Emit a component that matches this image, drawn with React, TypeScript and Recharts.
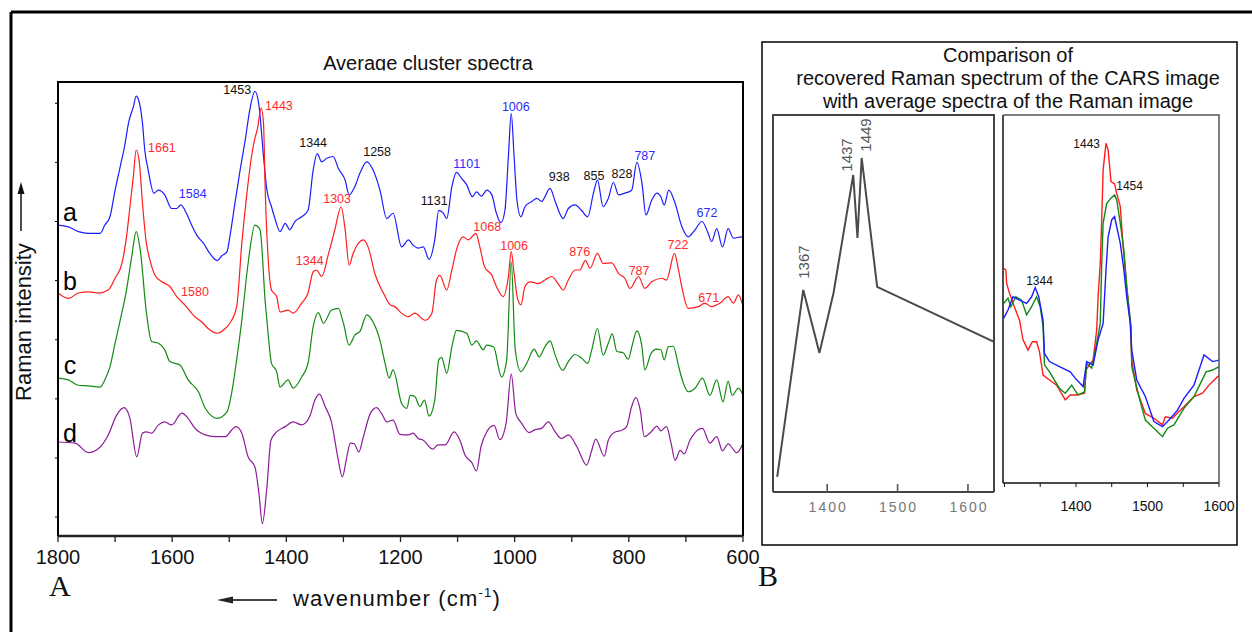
import React from 'react';
import { LineChart, Line, XAxis, YAxis, ReferenceDot } from 'recharts';

const SANS = '"Liberation Sans", Arial, Helvetica, sans-serif';
const SERIF = '"Liberation Serif", "Times New Roman", serif';

// ---------- Panel A : average cluster spectra (offset-stacked, arbitrary units) ----------
const aWn = [1800,1782,1764,1747,1726,1718,1709,1700,1691,1683,1676,1668,1663,1658,1652,1648,1642,1632,1624,1613,1601,1592,1585,1575,1566,1557,1545,1534,1521,1513,1504,1499,1490,1481,1472,1464,1455,1448,1440,1434,1426,1420,1411,1402,1394,1385,1373,1362,1353,1346,1338,1329,1318,1309,1297,1290,1280,1271,1259,1248,1236,1224,1213,1198,1186,1178,1169,1160,1150,1140,1133,1125,1119,1110,1102,1093,1084,1074,1067,1058,1049,1040,1032,1024,1017,1011,1006,1001,996,989,982,970,961,953,938,929,915,906,894,883,872,862,855,845,836,827,818,807,795,786,777,770,760,751,744,738,730,719,707,696,684,672,661,655,646,636,626,617,602,600];
const aVal = [4.94,4.91,4.83,4.80,4.80,4.94,5.08,5.53,5.93,6.29,6.69,6.94,7.12,7.03,6.66,6.21,5.87,5.48,5.53,5.45,5.22,5.22,5.28,5.14,4.94,4.77,4.63,4.46,4.34,4.42,4.49,4.74,5.31,5.87,6.38,6.89,7.20,6.97,6.10,5.53,5.25,5.05,4.83,4.97,4.86,5.00,5.08,5.19,5.87,6.15,6.01,6.07,6.10,5.90,5.70,5.45,5.59,5.82,6.01,5.87,5.53,5.05,5.14,4.57,4.69,4.60,4.55,4.57,4.36,4.69,5.19,5.14,5.05,5.59,5.83,5.73,5.62,5.42,5.50,5.43,5.53,5.45,5.14,4.98,5.19,6.10,6.83,6.10,5.36,5.08,5.25,5.34,5.39,5.34,5.56,5.34,5.05,5.22,5.28,5.19,5.08,5.48,5.70,5.25,5.39,5.66,5.45,5.48,5.53,6.00,5.65,5.11,5.36,5.48,5.42,5.28,5.53,5.31,4.91,4.74,4.86,5.00,4.80,4.66,4.88,4.57,4.88,4.72,4.74,4.74];

const bWn = [1800,1782,1764,1747,1729,1712,1700,1688,1680,1674,1668,1663,1658,1652,1646,1639,1630,1618,1604,1592,1578,1560,1548,1537,1521,1507,1499,1487,1478,1469,1461,1455,1451,1444,1440,1437,1432,1426,1417,1411,1397,1388,1373,1362,1353,1347,1338,1326,1315,1304,1297,1290,1283,1265,1256,1245,1230,1218,1210,1198,1186,1175,1157,1145,1137,1131,1119,1110,1102,1090,1081,1068,1061,1053,1040,1032,1020,1011,1006,1001,995,989,982,973,959,947,935,924,915,906,894,886,876,868,855,845,830,818,807,798,783,772,760,742,734,720,713,706,696,678,667,655,640,626,617,608,600];
const bVal = [3.79,3.70,3.79,3.81,3.79,3.84,4.04,4.29,4.74,5.25,5.76,6.21,6.04,5.31,4.69,4.35,4.09,3.98,3.90,3.73,3.59,3.39,3.30,3.19,3.11,3.19,3.28,3.56,4.63,5.48,6.10,6.41,6.55,6.92,6.66,5.53,4.40,3.84,3.73,3.47,3.50,3.45,3.62,3.79,4.15,4.18,4.07,4.46,4.86,5.25,4.86,4.26,4.46,4.69,4.55,4.12,3.79,3.59,3.56,3.45,3.39,3.45,3.33,3.45,4.01,4.09,3.84,4.18,4.52,4.74,4.69,4.80,4.57,4.24,4.09,3.90,3.73,4.07,4.49,4.12,3.70,3.59,3.90,3.98,3.95,4.01,4.07,3.95,3.84,4.01,4.18,4.18,4.34,4.21,4.46,4.29,4.30,4.12,4.04,3.87,4.07,3.87,3.98,4.04,4.01,4.46,4.18,3.84,3.53,3.56,3.62,3.56,3.62,3.73,3.62,3.76,3.56];

const cWn = [1800,1782,1764,1747,1726,1718,1709,1700,1691,1680,1671,1663,1656,1645,1636,1624,1613,1604,1586,1572,1554,1542,1521,1504,1496,1487,1478,1467,1455,1446,1437,1432,1426,1417,1411,1397,1388,1373,1362,1353,1344,1335,1321,1309,1300,1290,1280,1271,1259,1248,1236,1227,1220,1213,1198,1189,1183,1175,1166,1158,1150,1140,1133,1128,1119,1110,1102,1084,1075,1067,1055,1049,1037,1023,1014,1006,999,989,979,966,957,947,938,929,916,906,894,883,872,865,855,845,836,829,821,810,801,794,786,777,772,761,751,744,738,731,722,714,707,696,684,671,658,646,635,626,619,608,600];
const cVal = [2.35,2.32,2.23,2.22,2.20,2.32,2.54,2.94,3.33,3.84,4.40,4.83,4.52,3.45,2.97,2.94,2.83,2.63,2.57,2.32,2.12,1.84,1.67,1.78,2.09,2.66,3.33,4.29,4.94,4.86,3.64,3.11,2.60,2.46,2.20,2.32,2.18,2.37,2.60,3.22,3.46,3.28,3.50,3.53,3.28,2.91,3.08,3.14,3.42,3.30,2.99,2.60,2.35,2.49,1.92,1.84,2.06,2.04,1.87,1.98,1.71,1.98,2.66,2.70,2.43,2.88,3.16,3.11,2.91,2.98,2.83,2.91,2.88,2.37,2.66,4.32,2.83,2.46,2.60,2.84,2.71,2.88,2.98,2.74,2.48,2.63,2.75,2.69,2.60,2.83,3.19,2.74,2.94,3.10,2.80,2.78,2.67,2.91,3.15,2.88,2.49,2.77,2.84,2.83,2.66,2.88,2.89,2.60,2.34,2.12,2.18,2.35,2.06,2.32,1.95,2.30,2.06,2.18,2.06];

const dWn = [1800,1770,1747,1729,1712,1697,1684,1674,1662,1652,1645,1636,1624,1613,1601,1583,1572,1560,1542,1525,1507,1496,1488,1478,1467,1455,1448,1442,1434,1427,1417,1402,1388,1373,1359,1350,1342,1332,1321,1310,1302,1294,1288,1281,1273,1265,1253,1242,1233,1224,1213,1201,1186,1178,1169,1160,1144,1134,1122,1106,1096,1087,1075,1067,1059,1049,1036,1026,1015,1006,998,988,975,964,953,941,929,918,906,891,874,865,858,843,836,824,812,804,795,788,780,773,761,751,744,734,726,719,710,703,693,684,671,658,646,636,626,611,600];
const dVal = [1.27,1.25,1.09,1.16,1.39,1.73,1.85,1.67,1.02,1.42,1.44,1.42,1.56,1.61,1.56,1.76,1.67,1.50,1.39,1.36,1.36,1.47,1.53,1.42,1.02,0.85,0.40,-0.11,0.51,1.30,1.44,1.53,1.61,1.56,1.70,1.98,2.08,1.87,1.61,1.02,0.68,1.02,1.25,1.24,1.10,1.36,1.75,1.85,1.75,1.61,1.64,1.40,1.39,1.42,1.33,1.30,1.15,1.22,1.22,1.44,1.30,1.05,0.92,0.78,1.19,1.44,1.55,1.31,1.59,2.42,1.75,1.59,1.43,1.48,1.50,1.61,1.44,1.33,1.39,1.19,0.88,1.13,1.32,1.03,1.30,1.44,1.47,1.53,1.87,2.02,1.81,1.36,1.44,1.54,1.46,1.53,1.25,0.96,1.13,1.07,1.30,1.43,1.50,1.25,1.36,1.12,1.24,1.09,1.25];

const axisATicks = [1800,1700,1600,1500,1400,1300,1200,1100,1000,900,800,700,600];
const axisAYTicks = [0,1,2,3,4,5,6,7];

// peak annotations of panel A (colour group: a = blue, b = red, k = black)
const peakText = ['1584','1101','1006','787','672','1453','1344','1258','1131','938','855','828','1661','1443','1303','1344','1580','1068','1006','876','787','722','671'];
const peakWn = [1564,1084,998,772,663,1486,1353,1241,1141,922,861,812,1618,1413,1311,1359,1560,1048,1001,886,782,714,660];
const peakVal = [5.47,5.97,6.94,6.11,5.14,7.22,6.33,6.18,5.35,5.75,5.77,5.81,6.24,6.95,5.38,4.33,3.81,4.91,4.59,4.48,4.16,4.60,3.71];
const peakGroup = ['a','a','a','a','a','k','k','k','k','k','k','k','b','b','b','b','b','b','b','b','b','b','b'];

const letterText = ['a','b','c','d'];
const letterWn = [1779,1779,1779,1779];
const letterVal = [5.01,3.84,2.42,1.27];

// ---------- Panel B left : recovered Raman spectrum of the CARS image ----------
const carsWn = [1329,1366,1389,1409,1437,1443,1449,1471,1637];
const carsVal = [4.0,53.6,36.9,52.8,84.1,67.4,88.6,54.4,39.8];
const carsText = ['1367','1437','1449'];
const carsLabelWn = [1366,1428,1455];
const carsLabelVal = [61.0,89.4,94.7];
const carsTicks = [1400,1500,1600];

// ---------- Panel B right : average spectra of the Raman image ----------
const rWn = [1299,1302,1303,1307,1314,1321,1326,1333,1339,1345,1349,1354,1363,1373,1385,1392,1401,1412,1414,1420,1424,1429,1431,1434,1436,1438,1442,1445,1449,1454,1457,1462,1466,1471,1476,1478,1485,1497,1509,1521,1525,1535,1544,1551,1565,1577,1586,1598,1600];
const rVal = [58.3,57.9,54.3,51.6,47.8,44.3,38.9,36.1,38.4,38.4,35.7,29.3,28.0,26.6,22.6,23.9,23.9,24.4,30.7,32.5,33.4,41.6,50.6,59.7,71.5,85.1,92.3,90.5,81.9,81.3,78.7,75.1,64.2,53.3,43.4,33.4,25.3,18.9,17.6,15.8,18.0,17.6,19.4,20.7,23.5,24.4,26.6,28.9,29.1];
const gWn = [1299,1305,1309,1316,1324,1331,1338,1345,1350,1354,1356,1363,1377,1385,1394,1403,1412,1415,1422,1429,1434,1436,1438,1443,1449,1454,1457,1462,1467,1471,1477,1478,1488,1497,1509,1521,1528,1537,1551,1565,1582,1591,1600];
const gVal = [48.8,50.2,47.9,50.6,49.7,45.7,47.9,50.6,47.9,42.5,32.1,30.2,25.7,24.4,26.6,23.9,24.8,32.5,31.2,38.0,43.4,59.7,70.6,76.0,77.4,78.3,76.9,70.6,63.3,53.3,42.5,31.6,23.5,17.1,14.9,12.6,14.9,15.8,20.3,23.5,30.2,30.7,31.6];
const uWn = [1299,1305,1312,1321,1331,1338,1343,1348,1354,1356,1363,1377,1392,1399,1410,1415,1424,1431,1438,1442,1445,1450,1454,1457,1462,1467,1471,1476,1478,1485,1497,1509,1521,1530,1542,1551,1565,1579,1591,1600];
const uVal = [44.8,47.0,50.6,49.7,48.8,50.6,53.1,50.6,44.3,35.2,33.0,31.6,30.2,28.5,26.2,33.0,32.1,38.9,43.4,57.9,66.9,71.5,72.4,69.6,65.1,57.9,50.6,43.4,36.1,28.0,23.5,16.7,15.3,17.1,19.8,23.0,26.6,34.8,33.0,33.4];
const ramanTicks = [1300,1350,1400,1450,1500,1550,1600];
const ramanText = ['1443','1454','1344'];
const ramanLabelWn = [1415,1475,1349];
const ramanLabelVal = [92.1,80.7,54.9];

const zip = (w: number[], v: number[]) => w.map((x, i) => ({ wn: x, v: v[i] }));

const BLUE = '#1c1cff';
const RED = '#ff1c1c';
const GREEN = '#128a12';
const PURPLE = '#8c1c98';
const groupColor: Record<string, string> = { a: '#2b2bff', b: '#ff2b2b', k: '#111111' };

const panelA = [
  { key: 'a', data: zip(aWn, aVal), color: BLUE },
  { key: 'b', data: zip(bWn, bVal), color: RED },
  { key: 'c', data: zip(cWn, cVal), color: GREEN },
  { key: 'd', data: zip(dWn, dVal), color: PURPLE },
];
const panelBRight = [
  { key: 'red', data: zip(rWn, rVal), color: RED },
  { key: 'green', data: zip(gWn, gVal), color: GREEN },
  { key: 'blue', data: zip(uWn, uVal), color: BLUE },
];

const textShape = (
  text: string,
  color: string,
  size: number,
  opts: { rotate?: boolean; baseline?: string; family?: string } = {}
) => (p: any) => (
  <text
    x={p.cx}
    y={p.cy}
    fill={color}
    fontSize={size}
    fontFamily={opts.family || SANS}
    textAnchor="middle"
    dominantBaseline={opts.baseline || 'central'}
    transform={opts.rotate ? `rotate(-90 ${p.cx} ${p.cy})` : undefined}
  >
    {text}
  </text>
);

const InwardTick = (props: any) => {
  const { x, y, payload } = props;
  return (
    <g>
      <line x1={x} x2={x} y1={y} y2={y - 8} stroke="#555" strokeWidth={1.6} />
      <text x={x + 1} y={y + 20} textAnchor="middle" fontSize={14} fill="#777" fontFamily={SANS} letterSpacing={2}>
        {payload.value}
      </text>
    </g>
  );
};

export default function App() {
  return (
    <div style={{ position: 'absolute', left: 0, top: 0, width: 1252, height: 632, background: '#fff', overflow: 'hidden', fontFamily: SANS }}>
      {/* Panel A */}
      <div style={{ position: 'absolute', left: 0, top: 0 }}>
        <LineChart width={760} height={632} margin={{ top: 82, right: 0, bottom: 0, left: 0 }}>
          <XAxis
            dataKey="wn"
            type="number"
            domain={[600, 1800]}
            reversed
            allowDataOverflow
            ticks={axisATicks}
            interval={0}
            tickFormatter={(v: number) => (v % 200 === 0 ? String(v) : '')}
            height={96}
            tickSize={6}
            tickMargin={8}
            axisLine={{ stroke: '#222', strokeWidth: 2.5 }}
            tickLine={{ stroke: '#222', strokeWidth: 1.3 }}
            tick={{ fill: '#111', fontSize: 20, fontFamily: SANS }}
          />
          <YAxis
            type="number"
            domain={[-0.32, 7.36]}
            allowDataOverflow
            ticks={axisAYTicks}
            interval={0}
            width={58}
            tickSize={3}
            tickFormatter={() => ''}
            axisLine={{ stroke: '#000', strokeWidth: 2 }}
            tickLine={{ stroke: '#000', strokeWidth: 1 }}
          />
          <YAxis
            yAxisId="r"
            orientation="right"
            type="number"
            domain={[-0.32, 7.36]}
            ticks={axisAYTicks}
            interval={0}
            width={17}
            tickSize={4}
            tickFormatter={() => ''}
            axisLine={{ stroke: '#000', strokeWidth: 2 }}
            tickLine={{ stroke: '#000', strokeWidth: 1 }}
          />
          {panelA.map((s) => (
            <Line key={s.key} data={s.data} dataKey="v" type="monotone" stroke={s.color} strokeWidth={1.2} dot={false} isAnimationActive={false} />
          ))}
          {peakText.map((t, i) => (
            <ReferenceDot key={'pk' + i} x={peakWn[i]} y={peakVal[i]} r={0} ifOverflow="visible" shape={textShape(t, groupColor[peakGroup[i]], 12.5)} />
          ))}
          {letterText.map((t, i) => (
            <ReferenceDot key={'lt' + i} x={letterWn[i]} y={letterVal[i]} r={0} ifOverflow="visible" shape={textShape(t, '#000', 25, { baseline: 'alphabetic' })} />
          ))}
        </LineChart>
      </div>

      {/* Panel B left: CARS recovered spectrum */}
      <div style={{ position: 'absolute', left: 760, top: 100 }}>
        <LineChart width={250} height={440} margin={{ top: 15, right: 16, bottom: 0, left: 13 }}>
          <XAxis
            dataKey="wn"
            type="number"
            domain={[1323, 1637]}
            allowDataOverflow
            ticks={carsTicks}
            interval={0}
            height={48}
            tickSize={0}
            tickMargin={0}
            tickLine={false}
            axisLine={{ stroke: '#444', strokeWidth: 2 }}
            tick={<InwardTick />}
          />
          <YAxis type="number" domain={[0, 100]} width={0} tick={false} tickLine={false} axisLine={{ stroke: '#444', strokeWidth: 2 }} />
          <Line data={zip(carsWn, carsVal)} dataKey="v" type="linear" stroke="#4a4a4a" strokeWidth={2} dot={false} isAnimationActive={false} />
          {carsText.map((t, i) => (
            <ReferenceDot key={'cl' + i} x={carsLabelWn[i]} y={carsLabelVal[i]} r={0} ifOverflow="visible" shape={textShape(t, '#555', 15, { rotate: true })} />
          ))}
        </LineChart>
      </div>

      {/* Panel B right: Raman average spectra */}
      <div style={{ position: 'absolute', left: 995, top: 100 }}>
        <LineChart width={250} height={440} margin={{ top: 15, right: 26, bottom: 0, left: 8 }}>
          <XAxis
            dataKey="wn"
            type="number"
            domain={[1298, 1600]}
            allowDataOverflow
            ticks={ramanTicks}
            interval={0}
            tickFormatter={(v: number) => (v % 100 === 0 && v !== 1300 ? String(v) : '')}
            height={57}
            tickSize={4}
            tickMargin={14}
            axisLine={{ stroke: '#111', strokeWidth: 1.5 }}
            tickLine={{ stroke: '#111', strokeWidth: 1 }}
            tick={{ fill: '#111', fontSize: 14, fontFamily: SANS }}
          />
          <YAxis type="number" domain={[0, 100]} width={0} tick={false} tickLine={false} axisLine={{ stroke: '#111', strokeWidth: 1.5 }} />
          {panelBRight.map((s) => (
            <Line key={s.key} data={s.data} dataKey="v" type="linear" stroke={s.color} strokeWidth={1.4} dot={false} isAnimationActive={false} />
          ))}
          {ramanText.map((t, i) => (
            <ReferenceDot key={'rl' + i} x={ramanLabelWn[i]} y={ramanLabelVal[i]} r={0} ifOverflow="visible" shape={textShape(t, '#111', 12)} />
          ))}
        </LineChart>
      </div>

      {/* Decorations: frames, titles, axis captions */}
      <svg width={1252} height={632} style={{ position: 'absolute', left: 0, top: 0, pointerEvents: 'none' }}>
        <defs>
          <clipPath id="titleClip">
            <rect x={0} y={0} width={760} height={70.5} />
          </clipPath>
        </defs>
        <line x1={11} y1={12} x2={1252} y2={12} stroke="#000" strokeWidth={3} />
        <line x1={11} y1={12} x2={11} y2={632} stroke="#000" strokeWidth={3} />

        {/* plot frames */}
        <polyline points="58,536 58,82 743,82 743,536" fill="none" stroke="#000" strokeWidth={2} />
        <polyline points="773,492 773,115 994,115 994,492" fill="none" stroke="#444" strokeWidth={2} />
        <line x1={1003} y1={483} x2={1003} y2={115} stroke="#111" strokeWidth={1.5} />
        <polyline points="1003,115 1219,115 1219,483" fill="none" stroke="#555" strokeWidth={1.5} />

        <text x={428} y={69.5} textAnchor="middle" fontSize={20} fontFamily={SANS} fill="#111" clipPath="url(#titleClip)">
          Average cluster spectra
        </text>

        <text transform="translate(31 322) rotate(-90)" textAnchor="middle" fontSize={22} fontFamily={SANS} fill="#111">
          Raman intensity
        </text>
        <line x1={21} y1={231} x2={21} y2={190} stroke="#111" strokeWidth={1.5} />
        <polygon points="21,182 17.5,194 24.5,194" fill="#111" />

        <text x={49} y={596} fontSize={30} fontFamily={SERIF} fill="#111">A</text>

        <line x1={230} y1={600} x2={277} y2={600} stroke="#444" strokeWidth={2} />
        <polygon points="217,600 233,596.5 233,603.5" fill="#222" />
        <text x={293} y={606} fontSize={22} fontFamily={SANS} fill="#111" letterSpacing={1.2}>
          wavenumber (cm
          <tspan fontSize={13} dy={-9}>-1</tspan>
          <tspan dy={9}>)</tspan>
        </text>

        <rect x={762} y={42} width={475} height={503} fill="none" stroke="#000" strokeWidth={1.5} />
        <text x={1008} y={62} textAnchor="middle" fontSize={20} fontFamily={SANS} fill="#111">Comparison of</text>
        <text x={1008} y={85} textAnchor="middle" fontSize={20} fontFamily={SANS} fill="#111">recovered Raman spectrum of the CARS image</text>
        <text x={1008} y={108} textAnchor="middle" fontSize={20} fontFamily={SANS} fill="#111">with average spectra of the Raman image</text>

        <text x={758} y={586} fontSize={30} fontFamily={SERIF} fill="#111">B</text>
      </svg>
    </div>
  );
}
